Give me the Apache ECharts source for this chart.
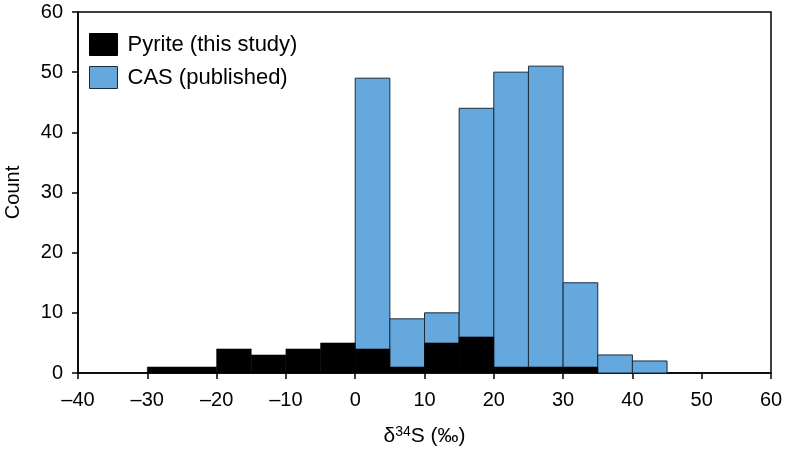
<!DOCTYPE html>
<html><head><meta charset="utf-8">
<script src="https://cdn.jsdelivr.net/npm/echarts@6/dist/echarts.min.js"></script>
<style>html,body{margin:0;padding:0;background:#fff}#c{width:788px;height:451px}</style>
</head><body><div id="c"></div>
<script>
const binWidth = 5;
const pyriteBins = [-30, -25, -20, -15, -10, -5, 0, 5, 10, 15, 20, 25, 30];
const pyriteCounts = [1, 1, 4, 3, 4, 5, 4, 1, 5, 6, 1, 1, 1];
const casBins = [0, 5, 10, 15, 20, 25, 30, 35, 40];
const casCounts = [49, 9, 10, 44, 50, 51, 15, 3, 2];
const xTicks = [-40, -30, -20, -10, 0, 10, 20, 30, 40, 50, 60];
const yTicks = [0, 10, 20, 30, 40, 50, 60];

const FONT = '"Liberation Sans", Arial, sans-serif';
const BLUE = '#65a8de';

function renderBar(params, api) {
  const x0 = api.value(0), y = api.value(1);
  const p0 = api.coord([x0, 0]);
  const p1 = api.coord([x0 + binWidth, y]);
  return {
    type: 'rect',
    shape: { x: p0[0], y: p1[1], width: p1[0] - p0[0], height: p0[1] - p1[1] },
    style: api.style()
  };
}

const chart = echarts.init(document.getElementById('c'), null, { renderer: 'canvas' });
chart.setOption({
  animation: false,
  backgroundColor: '#fff',
  grid: { left: 78, right: 17, top: 12, bottom: 78, containLabel: false, outerBoundsMode: 'none',
    show: true, borderColor: '#000', borderWidth: 1.5, backgroundColor: 'transparent' },
  legend: {
    data: [
      { name: 'Pyrite (this study)', itemStyle: { color: '#000', borderColor: '#000', borderWidth: 1 } },
      { name: 'CAS (published)', itemStyle: { color: BLUE, borderColor: '#1c2b3a', borderWidth: 1 } }
    ],
    orient: 'vertical', left: 89, top: 33, padding: 0, itemWidth: 28, itemHeight: 22, itemGap: 10,
    icon: 'rect', selectedMode: false,
    textStyle: { fontFamily: FONT, fontSize: 22, color: '#000', padding: [0, 0, 0, 5] }
  },
  xAxis: {
    type: 'value', min: xTicks[0], max: xTicks[xTicks.length - 1], interval: 10,
    axisLine: { onZero: false, lineStyle: { color: '#000', width: 1.5 } },
    axisTick: { show: true, length: 6, lineStyle: { color: '#000', width: 1.5 } },
    splitLine: { show: false },
    axisLabel: { fontFamily: FONT, fontSize: 20, color: '#000', margin: 17,
      formatter: v => String(v).replace('-', '\u2013') },
    name: '{d|δ}{s|34}{d|S (‰)}', nameLocation: 'middle', nameGap: 52,
    nameTextStyle: { rich: { d: { fontFamily: FONT, fontSize: 21, color: '#000' }, s: { fontFamily: FONT, fontSize: 14, color: '#000', verticalAlign: 'bottom', padding: [0, 0, 9, 0] } } }
  },
  yAxis: {
    type: 'value', min: yTicks[0], max: yTicks[yTicks.length - 1], interval: 10,
    axisLine: { show: true, onZero: false, lineStyle: { color: '#000', width: 1.5 } },
    axisTick: { show: true, length: 6, lineStyle: { color: '#000', width: 1.5 } },
    splitLine: { show: false },
    axisLabel: { fontFamily: FONT, fontSize: 20, color: '#000', margin: 15 },
    name: 'Count', nameLocation: 'middle', nameGap: 55, nameRotate: 90,
    nameTextStyle: { fontFamily: FONT, fontSize: 20, color: '#000' }
  },
  series: [
    {
      name: 'CAS (published)', type: 'custom', renderItem: renderBar,
      itemStyle: { color: BLUE, borderColor: '#1c2b3a', borderWidth: 1 },
      encode: { x: 0, y: 1 },
      data: casBins.map((b, i) => [b, casCounts[i]]), z: 2
    },
    {
      name: 'Pyrite (this study)', type: 'custom', renderItem: renderBar,
      itemStyle: { color: '#000', borderColor: '#000', borderWidth: 0.5 },
      encode: { x: 0, y: 1 },
      data: pyriteBins.map((b, i) => [b, pyriteCounts[i]]), z: 3
    }
  ]
});
</script></body></html>
